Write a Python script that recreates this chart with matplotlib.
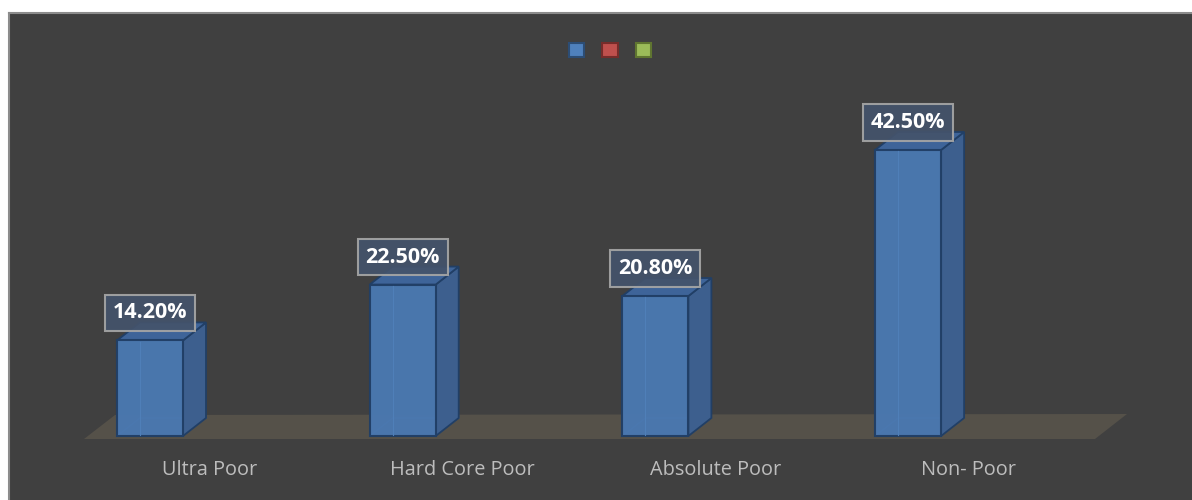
import matplotlib
matplotlib.use("Agg")
import matplotlib.pyplot as plt
from matplotlib.patches import Polygon, Patch

categories = ["Ultra Poor", "Hard Core Poor", "Absolute Poor", "Non- Poor"]
values = [14.2, 22.5, 20.8, 42.5]
value_labels = ["14.20%", "22.50%", "20.80%", "42.50%"]
legend_colors = ["#4f81bd", "#c0504d", "#9bbb59"]
legend_edges = ["#2c4d75", "#772c2a", "#5f7530"]

W, H = 1192, 500
fig = plt.figure(figsize=(W / 100, H / 100), dpi=100, facecolor="white")
left_px, top_px = 9, 13
ax = fig.add_axes([left_px / W, 0, (W - left_px) / W, (H - top_px) / H])
ax.set_facecolor("#404040")

# layout: pixel scale of data units
sx = 252.7   # px per category
sy = 6.73    # px per percent
x0_px = 150  # px of category 0 centre
y0_row = 436 # image row of value 0
ax.set_xlim((left_px - x0_px) / sx, (W - x0_px) / sx)
ax.set_ylim((y0_row - H) / sy, (y0_row - top_px) / sy)
ax.set_xticks([]); ax.set_yticks([])
for s in ["right", "bottom"]:
    ax.spines[s].set_visible(False)
for s in ["left", "top"]:
    ax.spines[s].set_color("#8c8c8c")
    ax.spines[s].set_linewidth(1.5)

def px2x(p):
    return (p - x0_px) / sx

def row2y(r):
    return (y0_row - r) / sy

# floor
floor = Polygon([(px2x(84), row2y(439)), (px2x(1095), row2y(439)),
                 (px2x(1127), row2y(414)), (px2x(115), row2y(415))],
                closed=True, fc="#555149", ec="none", zorder=1)
ax.add_patch(floor)

dx = 23 / sx
dy = 18 / sy
hw = 33 / sx
edge = "#213f66"
for i, v in enumerate(values):
    xl, xr = i - hw, i + hw
    # back inner edges (visible through transparency)
    ax.plot([xl + dx, xl + dx], [dy, v + dy], color="#4a78b0", lw=0.8, zorder=2)
    ax.plot([xl, xl + dx, xr + dx], [0, dy, dy], color="#4a78b0", lw=0.8, zorder=2)
    # right face
    ax.add_patch(Polygon([(xr, 0), (xr + dx, dy), (xr + dx, v + dy), (xr, v)],
                         closed=True, fc="#3d5f8e", ec=edge, lw=1.3, zorder=3))
    # top face
    ax.add_patch(Polygon([(xl, v), (xr, v), (xr + dx, v + dy), (xl + dx, v + dy)],
                         closed=True, fc="#3e6499", ec=edge, lw=1.3, zorder=3))
    # front face
    ax.add_patch(Polygon([(xl, 0), (xr, 0), (xr, v), (xl, v)],
                         closed=True, fc="#4a78b0", ec=edge, lw=1.5, zorder=4, alpha=0.97))
    ax.plot([xl + dx, xl + dx], [0.2, v - 0.2], color="#4f7fb8", lw=0.8, zorder=5)
    # value label
    ax.text(i, v + 27.5 / sy, value_labels[i], ha="center", va="center",
            fontsize=15.5, fontweight="bold", family=["Open Sans", "DejaVu Sans"],
            color="white", zorder=6,
            bbox=dict(boxstyle="square,pad=0.36", fc="#44536b", ec="#a6a6a6",
                      lw=1.5, alpha=0.92))

# category labels
for i, c in enumerate(categories):
    ax.text(i + 60 / sx, row2y(470), c, ha="center", va="center",
            fontsize=14.3, family=["Open Sans", "DejaVu Sans"], color="#bdbdbd", zorder=6)

# legend (entries without text)
handles = [Patch(fc=fc, ec=ec, lw=1.5) for fc, ec in zip(legend_colors, legend_edges)]
leg = ax.legend(handles, ["", "", ""], ncol=3, loc="center",
                bbox_to_anchor=(px2x(610), row2y(51.5)), bbox_transform=ax.transData,
                frameon=False, handlelength=0.85, handleheight=0.85,
                handletextpad=0, columnspacing=1.0, fontsize=13)

fig.savefig("out.png", dpi=100, facecolor=fig.get_facecolor())
